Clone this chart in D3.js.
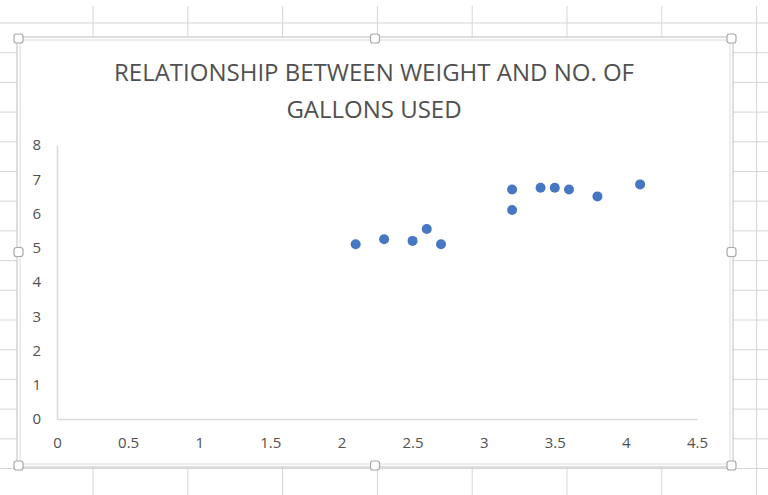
<!DOCTYPE html>
<html lang="en">
<head>
    <meta charset="UTF-8">
    <title>Weight vs Gallons</title>
    <script src="https://cdn.jsdelivr.net/npm/d3@7"></script>
    <style>
        body { margin: 0; background: #fff; }
        svg { display: block; }
    </style>
</head>
<body>
    <div id="chart-space"></div>

<script>
    // data
    var weights = [2.1, 2.3, 2.5, 2.6, 2.7, 3.2, 3.2, 3.4, 3.5, 3.6, 3.8, 4.1];
    var gallons = [5.1, 5.25, 5.2, 5.55, 5.1, 6.7, 6.1, 6.75, 6.75, 6.7, 6.5, 6.85];
    var xTicks = [0, 0.5, 1, 1.5, 2, 2.5, 3, 3.5, 4, 4.5];
    var yTicks = [0, 1, 2, 3, 4, 5, 6, 7, 8];
    var titleLines = ["RELATIONSHIP BETWEEN WEIGHT AND NO. OF", "GALLONS USED"];

    var width = 768;
    var height = 495;
    var font = "'Open Sans', 'DejaVu Sans', sans-serif";

    var svg = d3.select("#chart-space")
                .append("svg")
                .attr("width", width)
                .attr("height", height);

    svg.append("rect").attr("width", width).attr("height", height).attr("fill", "#fff");

    // spreadsheet cells behind the chart
    var sheet = svg.append("g").attr("stroke", "#d6d6d6").attr("stroke-width", 1);
    for (var i = -1; i < 8; i++) {
        var cx = 93 + i * 94.8;
        sheet.append("line").attr("x1", cx).attr("x2", cx).attr("y1", 6).attr("y2", height);
    }
    for (var j = 0; j < 16; j++) {
        var ry = 23 + j * 29.7;
        sheet.append("line").attr("x1", 0).attr("x2", width).attr("y1", ry).attr("y2", ry);
    }

    // chart frame (selected)
    var frame = {x: 17, y: 37, w: 716, h: 430};
    svg.append("rect")
        .attr("x", frame.x).attr("y", frame.y)
        .attr("width", frame.w).attr("height", frame.h)
        .attr("fill", "#fff").attr("stroke", "#c8c8c8").attr("stroke-width", 1.2);
    svg.append("rect")
        .attr("x", frame.x + 3).attr("y", frame.y + 3)
        .attr("width", frame.w - 6).attr("height", frame.h - 6)
        .attr("fill", "none").attr("stroke", "#dcdcdc").attr("stroke-width", 1);

    var handles = [];
    [0, 0.5, 1].forEach(function(fx) {
        [0, 0.5, 1].forEach(function(fy) {
            if (fx === 0.5 && fy === 0.5) return;
            handles.push([frame.x + 1.5 + fx * (frame.w - 3), frame.y + 1.5 + fy * (frame.h - 3)]);
        });
    });
    svg.selectAll("rect.handle")
        .data(handles)
        .join("rect")
        .attr("class", "handle")
        .attr("x", function(d){ return d[0] - 4.5; })
        .attr("y", function(d){ return d[1] - 4.5; })
        .attr("width", 9).attr("height", 9)
        .attr("rx", 2.5)
        .attr("fill", "#fff").attr("stroke", "#a8a8a8").attr("stroke-width", 1.2);

    // title
    svg.append("text")
        .attr("x", 374).attr("y", 81)
        .attr("text-anchor", "middle")
        .attr("font-family", font).attr("font-size", 24)
        .attr("fill", "#505050")
        .selectAll("tspan")
        .data(titleLines)
        .join("tspan")
        .attr("x", 374)
        .attr("dy", function(d, i){ return i === 0 ? 0 : 37; })
        .text(function(d){ return d; });

    // scales
    var xScale = d3.scaleLinear().domain([0, 4.5]).range([57, 697]);
    var yScale = d3.scaleLinear().domain([0, 8]).range([419, 145]);

    // axes
    var xAxis = svg.append("g")
        .attr("transform", "translate(0," + yScale(0) + ")")
        .call(d3.axisBottom(xScale).tickValues(xTicks).tickSize(0).tickPadding(18).tickFormat(d3.format("")));
    var yAxis = svg.append("g")
        .attr("transform", "translate(" + xScale(0) + ",0)")
        .call(d3.axisLeft(yScale).tickValues(yTicks).tickSize(0).tickPadding(16).tickFormat(d3.format("")));

    [xAxis, yAxis].forEach(function(ax) {
        ax.select(".domain").attr("stroke", "#d9d9d9").attr("stroke-width", 1.5);
        ax.selectAll("text")
            .attr("font-family", font)
            .attr("font-size", 15)
            .attr("fill", "#505050");
    });

    // points
    svg.selectAll("circle.pt")
        .data(weights.map(function(w, i){ return {w: w, g: gallons[i]}; }))
        .join("circle")
        .attr("class", "pt")
        .attr("cx", function(d){ return xScale(d.w); })
        .attr("cy", function(d){ return yScale(d.g); })
        .attr("r", 5)
        .attr("fill", "#4677c2");
</script>
</body>
</html>
